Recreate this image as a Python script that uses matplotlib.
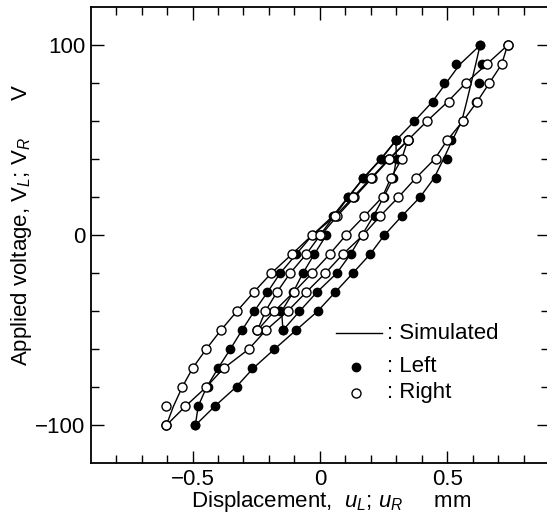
import matplotlib
matplotlib.use('Agg')
import matplotlib.pyplot as plt
import numpy as np

plt.rcParams['font.family'] = ['Liberation Sans', 'DejaVu Sans']
plt.rcParams['mathtext.fontset'] = 'custom'
plt.rcParams['mathtext.rm'] = 'Liberation Sans'
plt.rcParams['mathtext.it'] = 'Liberation Sans:italic'

# voltage steps of each branch (sequence 0 -> 100 -> -100 -> 50 -> -50 -> 0)
v_init = [0, 10, 20, 30, 40, 50, 60, 70, 80, 90, 100]
v_desc = [100, 90, 80, 70, 60, 50, 40, 30, 20, 10, 0, -10, -20, -30, -40, -50, -60, -70, -80, -90, -100]
v_asc = [-100, -90, -80, -70, -60, -50, -40, -30, -20, -10, 0, 10, 20, 30, 40, 50]
v_desc2 = [50, 40, 30, 20, 10, 0, -10, -20, -30, -40, -50]
v_asc2 = [-50, -40, -30, -20, -10, 0]

# measured displacement, left actuator (mm)
left_init = [0.00, 0.056, 0.112, 0.171, 0.240, 0.299, 0.371, 0.443, 0.489, 0.535, 0.629]
left_desc = [0.629, 0.636, 0.626, 0.614, 0.561, 0.515, 0.498, 0.455, 0.393, 0.321, 0.253, 0.197, 0.129,
             0.060, -0.009, -0.094, -0.179, -0.267, -0.326, -0.413, -0.489]
left_asc = [-0.489, -0.480, -0.439, -0.400, -0.352, -0.306, -0.258, -0.206, -0.156, -0.093, -0.025,
            0.050, 0.110, 0.170, 0.240, 0.299]
left_desc2 = [0.299, 0.302, 0.288, 0.250, 0.217, 0.170, 0.123, 0.066, -0.012, -0.080, -0.145]
left_asc2 = [-0.145, -0.156, -0.105, -0.067, -0.022, 0.025]

# measured displacement, right actuator (mm)
right_init = [0.004, 0.067, 0.136, 0.204, 0.273, 0.345, 0.420, 0.508, 0.572, 0.657, 0.737]
right_desc = [0.737, 0.714, 0.665, 0.616, 0.561, 0.498, 0.456, 0.376, 0.308, 0.236, 0.169, 0.090, 0.021,
              -0.054, -0.127, -0.212, -0.277, -0.378, -0.447, -0.528, -0.603]
right_asc = [-0.603, -0.603, -0.541, -0.500, -0.447, -0.389, -0.326, -0.260, -0.191, -0.110, -0.031,
             0.060, 0.130, 0.200, 0.270, 0.345]
right_desc2 = [0.345, 0.321, 0.278, 0.247, 0.174, 0.102, 0.038, -0.031, -0.103, -0.179, -0.245]
right_asc2 = [-0.245, -0.214, -0.169, -0.117, -0.054, 0.001]

# simulated displacement (mm)
sim_left_init = [0.00, 0.056, 0.112, 0.171, 0.240, 0.299, 0.371, 0.440, 0.495, 0.550, 0.629]
sim_left_desc = [0.629, 0.612, 0.594, 0.576, 0.557, 0.520, 0.485, 0.448, 0.393, 0.321, 0.253, 0.197, 0.129,
                 0.060, -0.009, -0.094, -0.179, -0.262, -0.330, -0.413, -0.489]
sim_left_asc = [-0.489, -0.478, -0.445, -0.400, -0.352, -0.306, -0.258, -0.206, -0.156, -0.093, -0.030,
                0.050, 0.110, 0.170, 0.238, 0.299]
sim_left_desc2 = [0.299, 0.300, 0.288, 0.250, 0.210, 0.165, 0.120, 0.066, -0.012, -0.080, -0.145]
sim_left_asc2 = [-0.145, -0.150, -0.105, -0.067, -0.022, 0.025]

sim_right_init = [0.004, 0.067, 0.136, 0.204, 0.273, 0.345, 0.420, 0.500, 0.572, 0.655, 0.737]
sim_right_desc = [0.737, 0.714, 0.665, 0.616, 0.561, 0.500, 0.450, 0.376, 0.308, 0.236, 0.169, 0.090, 0.021,
                  -0.054, -0.127, -0.212, -0.280, -0.378, -0.447, -0.528, -0.603]
sim_right_asc = [-0.603, -0.575, -0.541, -0.500, -0.447, -0.389, -0.326, -0.260, -0.191, -0.110, -0.031,
                 0.060, 0.130, 0.200, 0.270, 0.345]
sim_right_desc2 = [0.345, 0.321, 0.278, 0.245, 0.174, 0.102, 0.038, -0.031, -0.103, -0.179, -0.245]
sim_right_asc2 = [-0.245, -0.214, -0.169, -0.117, -0.054, 0.001]

fig = plt.figure(figsize=(5.47, 5.15), dpi=100)
ax = fig.add_axes([0.1658, 0.1004, 0.8379, 0.8854])

sims = [(sim_left_init, v_init), (sim_left_desc, v_desc), (sim_left_asc, v_asc),
        (sim_left_desc2, v_desc2), (sim_left_asc2, v_asc2),
        (sim_right_init, v_init), (sim_right_desc, v_desc), (sim_right_asc, v_asc),
        (sim_right_desc2, v_desc2), (sim_right_asc2, v_asc2)]
for xs, vs in sims:
    ax.plot(xs, vs, color='black', lw=1.0, zorder=2)

lefts = [(left_init, v_init), (left_desc, v_desc), (left_asc, v_asc), (left_desc2, v_desc2), (left_asc2, v_asc2)]
rights = [(right_init, v_init), (right_desc, v_desc), (right_asc, v_asc), (right_desc2, v_desc2),
          (right_asc2, v_asc2)]
for xs, vs in lefts:
    ax.plot(xs, vs, 'o', ms=6, mfc='black', mec='black', mew=1.0, ls='none', zorder=3)
for xs, vs in rights:
    ax.plot(xs, vs, 'o', ms=6.5, mfc='white', mec='black', mew=1.0, ls='none', zorder=4)

ax.set_xlim(-0.9, 0.9)
ax.set_ylim(-120, 120)
ax.set_xticks([-0.5, 0, 0.5])
ax.set_xticklabels(['\u22120.5', '0', '0.5'])
ax.set_xticks(np.arange(-0.8, 0.81, 0.1), minor=True)
ax.set_yticks([-100, 0, 100])
ax.set_yticklabels(['\u2212100', '0', '100'])
ax.set_yticks(np.arange(-100, 101, 20), minor=True)
ax.tick_params(which='both', direction='in', top=True, right=True, labelsize=16, width=1.0)
ax.tick_params(which='major', length=9)
ax.tick_params(axis='x', which='major', pad=4)
ax.tick_params(axis='y', which='major', pad=4)
ax.tick_params(which='minor', length=6)
for s in ax.spines.values():
    s.set_linewidth(1.3)

ax.set_xlabel(r'Displacement,  $u_L$; $u_R$     mm', fontsize=16, va='center')
ax.xaxis.set_label_coords(0.524, -0.083)
ax.set_ylabel(r'Applied voltage, $\mathrm{V}_L$; $\mathrm{V}_R$      V', fontsize=16, va='center')
ax.yaxis.set_label_coords(-0.15, 0.523)

# legend drawn by hand
tr = ax.transAxes
ax.plot([0.535, 0.635], [0.285, 0.285], color='black', lw=1.0, transform=tr)
ax.plot([0.578], [0.212], 'o', ms=6, mfc='black', mec='black', transform=tr)
ax.plot([0.578], [0.155], 'o', ms=6.5, mfc='white', mec='black', mew=1.0, transform=tr)
ax.text(0.647, 0.285, ': Simulated', fontsize=16, va='center', transform=tr)
ax.text(0.647, 0.212, ': Left', fontsize=16, va='center', transform=tr)
ax.text(0.647, 0.155, ': Right', fontsize=16, va='center', transform=tr)

fig.savefig('out.png', dpi=100)
